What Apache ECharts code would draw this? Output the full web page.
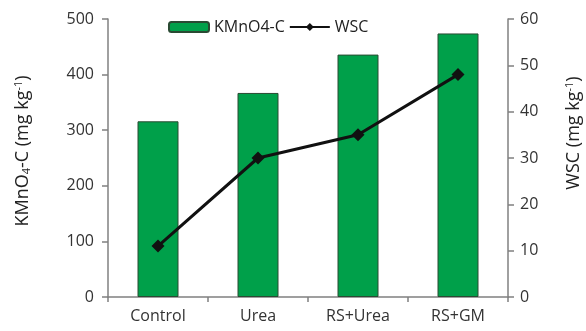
<!DOCTYPE html>
<html><head><meta charset="utf-8">
<script src="https://cdn.jsdelivr.net/npm/echarts@6/dist/echarts.min.js"></script>
<style>html,body{margin:0;padding:0;background:#fff}#c{width:586px;height:331px}</style>
</head><body><div id="c"></div>
<script>
const categories = ['Control', 'Urea', 'RS+Urea', 'RS+GM'];
const kmno4 = [316, 367, 436, 474];
const wsc = [11, 30, 35, 48];
const leftTicks = [0, 100, 200, 300, 400, 500];
const rightTicks = [0, 10, 20, 30, 40, 50, 60];

const FONT = 'Open Sans';
const chart = echarts.init(document.getElementById('c'));
chart.setOption({
  animation: false,
  textStyle: { fontFamily: FONT },
  grid: { left: 108, right: 78, top: 19, bottom: 34, outerBoundsMode: 'none', containLabel: false },
  legend: {
    left: 163, top: 14, itemGap: 4, itemWidth: 40, itemHeight: 10,
    textStyle: { fontSize: 16, color: '#222', fontFamily: FONT },
    data: [
      { name: 'KMnO4-C' },
      { name: 'WSC' }
    ]
  },
  xAxis: {
    type: 'category', data: categories,
    axisLine: { lineStyle: { color: '#808080', width: 1.5 } },
    axisTick: { show: true, length: 5, lineStyle: { color: '#808080', width: 1.5 } },
    axisLabel: { fontSize: 16, color: '#333', margin: 11 }
  },
  yAxis: [
    {
      type: 'value', min: 0, max: 500, interval: 100,
      position: 'left',
      splitLine: { show: false },
      axisLine: { show: true, lineStyle: { color: '#808080', width: 1.5 } },
      axisTick: { show: true, length: 6, lineStyle: { color: '#808080', width: 1.5 } },
      axisLabel: { fontSize: 16, color: '#333', margin: 14,
        formatter: v => leftTicks.includes(v) ? String(v) : '' },
      name: '{a|KMnO}{s|4}{a|-C (mg kg}{p|-1}{a|)}',
      nameLocation: 'middle', nameGap: 76, nameRotate: 90,
      nameTextStyle: {
        padding: [0, 0, 0, 14],
        rich: {
          a: { fontSize: 18, color: '#222', fontFamily: FONT },
          s: { fontSize: 11, color: '#222', fontFamily: FONT, verticalAlign: 'bottom', padding: [8, 0, 0, 0] },
          p: { fontSize: 11, color: '#222', fontFamily: FONT, verticalAlign: 'top', padding: [0, 0, 8, 0] }
        }
      }
    },
    {
      type: 'value', min: 0, max: 60, interval: 10,
      position: 'right',
      splitLine: { show: false },
      axisLine: { show: true, lineStyle: { color: '#808080', width: 1.5 } },
      axisTick: { show: true, length: 6, lineStyle: { color: '#808080', width: 1.5 } },
      axisLabel: { fontSize: 16, color: '#333', margin: 12,
        formatter: v => rightTicks.includes(v) ? String(v) : '' },
      name: '{a|WSC (mg kg}{p|-1}{a|)}',
      nameLocation: 'middle', nameGap: 56, nameRotate: 90,
      nameTextStyle: {
        padding: [0, 0, 0, 50],
        rich: {
          a: { fontSize: 18, color: '#222', fontFamily: FONT },
          p: { fontSize: 11, color: '#222', fontFamily: FONT, verticalAlign: 'top', padding: [0, 0, 8, 0] }
        }
      }
    }
  ],
  series: [
    {
      name: 'KMnO4-C', type: 'bar', data: kmno4, barWidth: 41, yAxisIndex: 0,
      itemStyle: { color: '#00A04A', borderColor: '#2a4a33', borderWidth: 1 }
    },
    {
      name: 'WSC', type: 'line', data: wsc, yAxisIndex: 1,
      symbol: 'diamond', symbolSize: 13,
      lineStyle: { color: '#111', width: 3 },
      itemStyle: { color: '#111' }
    }
  ]
});
</script></body></html>
